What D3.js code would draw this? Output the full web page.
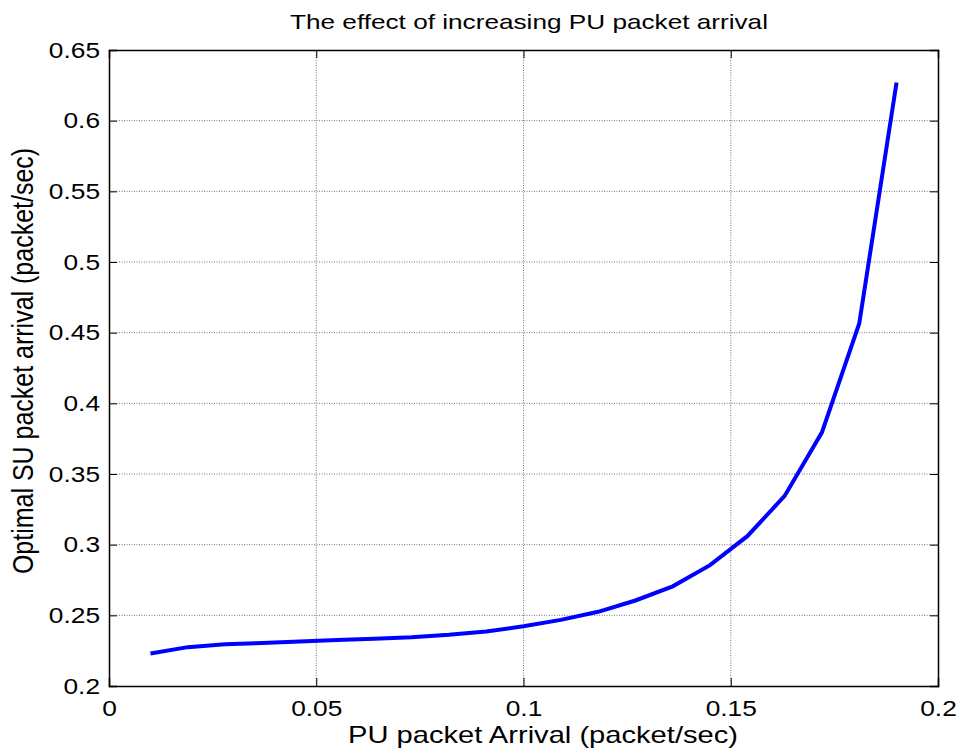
<!DOCTYPE html>
<html><head><meta charset="utf-8">
<script src="https://cdn.jsdelivr.net/npm/d3@7"></script>
<style>body{margin:0;background:#fff}svg{display:block}text{font-family:"Liberation Sans",Arial,sans-serif}</style>
</head><body>
<script>
const xValues = [0.01,0.019,0.028,0.037,0.046,0.055,0.064,0.073,0.082,0.091,0.1,0.109,0.118,0.127,0.136,0.145,0.154,0.163,0.172,0.181,0.19];
const yValues = [0.223,0.2275,0.2295,0.2305,0.2315,0.2325,0.2335,0.2345,0.2362,0.2385,0.2423,0.2468,0.2525,0.2605,0.2705,0.2855,0.306,0.3345,0.3795,0.4565,0.627];
const xTicks = [0,0.05,0.1,0.15,0.2];
const yTicks = [0.2,0.25,0.3,0.35,0.4,0.45,0.5,0.55,0.6,0.65];
const titleText = "The effect of increasing PU packet arrival";
const xLabel = "PU packet Arrival (packet/sec)";
const yLabel = "Optimal SU packet arrival (packet/sec)";

const W=960,H=755;
const L=109,R=938,T=50,B=686;
const SX=1.17; // horizontal glyph stretch seen in the reference
const svg=d3.select("body").append("svg").attr("width",W).attr("height",H);
const x=d3.scaleLinear().domain([0,0.2]).range([L,R]);
const y=d3.scaleLinear().domain([0.2,0.65]).range([B,T]);

// grid
const g=svg.append("g");
g.selectAll(".gx").data(xTicks.slice(1,-1)).enter().append("line")
 .attr("x1",d=>x(d)).attr("x2",d=>x(d)).attr("y1",T).attr("y2",B)
 .attr("stroke","#555").attr("stroke-width",0.8).attr("stroke-dasharray","1,1.5");
g.selectAll(".gy").data(yTicks.slice(1,-1)).enter().append("line")
 .attr("y1",d=>y(d)).attr("y2",d=>y(d)).attr("x1",L).attr("x2",R)
 .attr("stroke","#555").attr("stroke-width",0.8).attr("stroke-dasharray","1,1.5");

// axes
const fmt=d=>String(+d.toFixed(2));
svg.append("g").attr("class","axb").attr("transform",`translate(0,${B})`)
 .call(d3.axisBottom(x).tickValues(xTicks).tickSize(-8).tickPadding(14).tickFormat(fmt));
svg.append("g").attr("class","axl").attr("transform",`translate(${L},0)`)
 .call(d3.axisLeft(y).tickValues(yTicks).tickSize(-8).tickPadding(9).tickFormat(fmt));
svg.append("g").attr("transform",`translate(0,${T})`)
 .call(d3.axisTop(x).tickValues(xTicks).tickSize(-8).tickFormat(""));
svg.append("g").attr("transform",`translate(${R},0)`)
 .call(d3.axisRight(y).tickValues(yTicks).tickSize(-8).tickFormat(""));
svg.selectAll(".domain").attr("stroke","#000").attr("stroke-width",1.5);
svg.selectAll(".tick line").attr("stroke","#000").attr("stroke-width",1);
svg.selectAll(".tick text").attr("font-size",22.5).attr("fill","#000")
 .attr("font-family","'Liberation Sans',Arial,sans-serif");
svg.selectAll(".axb .tick text").attr("transform",`scale(${SX},1)`);
svg.selectAll(".axl .tick text").attr("x",-9/SX).attr("transform",`scale(${SX},1)`);

// line
const pts=xValues.map((v,i)=>[v,yValues[i]]);
svg.append("path").datum(pts)
 .attr("d",d3.line().x(d=>x(d[0])).y(d=>y(d[1])))
 .attr("fill","none").attr("stroke","#0000ff").attr("stroke-width",4).attr("stroke-linejoin","miter");

// texts
svg.append("text").attr("x",529).attr("y",29).attr("text-anchor","middle").attr("font-size",21)
 .attr("textLength",478).attr("lengthAdjust","spacingAndGlyphs").text(titleText);
svg.append("text").attr("x",543).attr("y",743).attr("text-anchor","middle").attr("font-size",24)
 .attr("textLength",390).attr("lengthAdjust","spacingAndGlyphs").text(xLabel);
svg.append("text").attr("transform",`translate(33,361) scale(${SX},1) rotate(-90)`)
 .attr("text-anchor","middle").attr("font-size",25).text(yLabel);
</script>
</body></html>
